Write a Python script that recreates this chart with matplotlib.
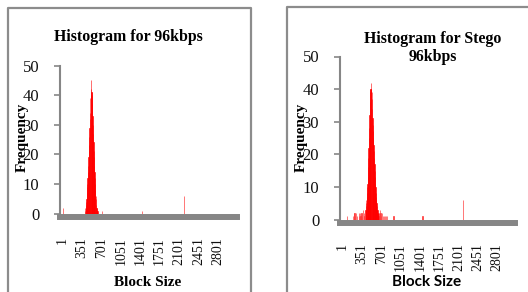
import matplotlib.pyplot as plt
from matplotlib.lines import Line2D

plt.rcParams['font.family'] = ['Liberation Serif', 'DejaVu Serif']

# category axis labels and y ticks
tick_sizes = [1, 351, 701, 1051, 1401, 1751, 2101, 2451, 2801]
y_ticks = [0, 10, 20, 30, 40, 50]

# Histogram for 96kbps - main peak read every 5 block sizes
cover_peak_sizes = list(range(405, 635, 5))
cover_peak_freq = [1, 2, 2, 3, 4, 5, 7, 9, 10, 12, 14, 16, 19, 21, 23, 26,
                   29, 32, 34, 39, 40, 42, 45, 41, 41, 40, 37, 33, 30, 27,
                   24, 21, 19, 16, 14, 12, 10, 8, 6, 5, 3, 2, 2, 1, 1, 1]
cover_other_sizes = [1, 715, 1437, 2195]
cover_other_freq = [2, 1, 1, 6]

# Histogram for Stego 96kbps
stego_peak_sizes = list(range(415, 665, 5))
stego_peak_freq = [3, 4, 5, 6, 7, 8, 10, 11, 13, 16, 19, 22, 25, 28, 32, 36,
                   39, 40, 40, 42, 40, 40, 39, 37, 34, 31, 29, 27, 25, 23,
                   21, 19, 17, 15, 13, 11, 10, 8, 7, 6, 5, 4, 3, 3, 2, 2,
                   2, 1, 2, 1]
stego_other_sizes = [85, 190, 200, 215, 230, 240, 265, 290, 300, 315, 325,
                     340, 355, 370, 380, 395, 405, 665, 675, 685, 700, 715,
                     730, 745, 770, 790, 800, 920, 1445, 2180]
stego_other_freq = [1, 1, 2, 2, 1, 2, 1, 1, 2, 2, 1, 2, 1, 3, 2, 1, 2, 2, 3,
                    2, 1, 2, 1, 1, 1, 1, 1, 1, 1, 6]

fig = plt.figure(figsize=(5.28, 2.92), dpi=100)
gray = '#868686'


def draw_panel(rect, xlim, peak_s, peak_f, other_s, other_f):
    ax = fig.add_axes(rect)
    ax.bar(peak_s, peak_f, width=4, color='red', edgecolor='red', linewidth=0.4)
    ax.bar(other_s, other_f, width=4, color='red', edgecolor='#ff4040', linewidth=0.5)
    ax.set_xlim(*xlim)
    ax.set_ylim(0, 50)
    ax.set_yticks(y_ticks)
    ax.set_xticks(tick_sizes)
    ax.set_xticklabels([str(t) for t in tick_sizes])
    ax.tick_params(axis='x', length=0, pad=15, labelrotation=90, labelsize=10,
                   labelcolor='#111111')
    for lab in ax.get_xticklabels():
        lab.set_va('top')
        lab.set_ha('center')
    ax.tick_params(axis='y', direction='out', length=4, width=1.2, color=gray,
                   pad=11, labelsize=12, labelcolor='#111111')
    for s in ['top', 'right']:
        ax.spines[s].set_visible(False)
    ax.spines['left'].set_color(gray)
    ax.spines['left'].set_linewidth(1.5)
    ax.spines['bottom'].set_color(gray)
    ax.spines['bottom'].set_linewidth(4.3)
    ax.spines['bottom'].set_position(('outward', 2.2))
    ax.patch.set_visible(False)
    return ax


draw_panel([60 / 528, 1 - 213.5 / 292, 177 / 528, 148 / 292], (-48, 3145),
           cover_peak_sizes, cover_peak_freq, cover_other_sizes, cover_other_freq)
draw_panel([340 / 528, 1 - 219.5 / 292, 175 / 528, 163 / 292], (-48, 3122),
           stego_peak_sizes, stego_peak_freq, stego_other_sizes, stego_other_freq)

# chart area borders
fig.add_artist(Line2D([7.5 / 528, 7.5 / 528, 251 / 528, 251 / 528],
                      [-0.02, 1 - 7.5 / 292, 1 - 7.5 / 292, -0.02],
                      transform=fig.transFigure, color='#8c8c8c', lw=1.6))
fig.add_artist(Line2D([287 / 528, 287 / 528, 1.02],
                      [-0.02, 1 - 6.5 / 292, 1 - 6.5 / 292],
                      transform=fig.transFigure, color='#8c8c8c', lw=1.6))

# titles and axis titles
fig.text(128 / 528, 1 - 37 / 292, 'Histogram for 96kbps', ha='center', va='center',
         fontsize=11.4, fontweight='bold')
fig.text(433 / 528, 1 - 48 / 292, 'Histogram for Stego\n96kbps', ha='center',
         va='center', fontsize=11.4, fontweight='bold', linespacing=1.15)
fig.text(22 / 528, 1 - 137 / 292, 'Frequency', rotation=90, ha='center', va='center',
         fontsize=11, fontweight='bold')
fig.text(301.7 / 528, 1 - 137 / 292, 'Frequency', rotation=90, ha='center',
         va='center', fontsize=11, fontweight='bold')
fig.text(148 / 528, 1 - 282 / 292, 'Block Size', ha='center', va='center',
         fontsize=11, fontweight='bold')
fig.text(427 / 528, 1 - 282 / 292, 'Block Size', ha='center', va='center',
         fontsize=11, fontweight='bold', family=['Lato', 'DejaVu Sans'])

fig.savefig('out.png', dpi=100)
